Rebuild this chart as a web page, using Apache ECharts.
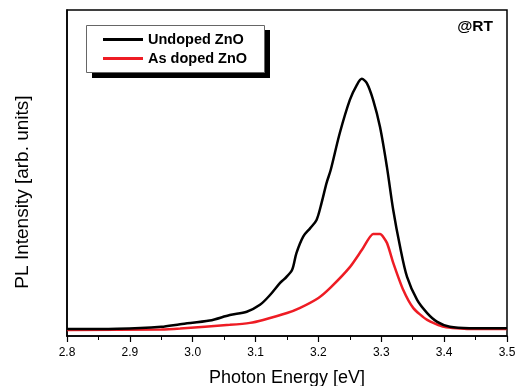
<!DOCTYPE html>
<html><head><meta charset="utf-8">
<script src="https://cdn.jsdelivr.net/npm/echarts@6/dist/echarts.min.js"></script>
<style>html,body{margin:0;padding:0;background:#fff}#c{width:515px;height:386px}</style>
</head><body><div id="c"></div>
<script>
const xTicks = ['2.8','2.9','3.0','3.1','3.2','3.3','3.4','3.5'];
const undopedE = [2.80,2.88,2.95,2.98,3.027,3.059,3.086,3.107,3.123,3.139,3.146,3.158,3.165,3.176,3.187,3.197,3.205,3.213,3.2195,3.234,3.250,3.261,3.269,3.277,3.287,3.298,3.309,3.319,3.330,3.341,3.357,3.373,3.389,3.409,3.44,3.50];
const undopedI = [2.7,2.8,3.4,4.2,5.3,7.0,8.0,10.1,13.1,16.8,18.0,20.7,25.9,31.0,33.5,36.0,41.2,47.3,51.2,62.5,72.6,77.1,79.0,77.7,72.6,64.3,52.1,39.0,27.7,18.6,11.6,7.6,4.9,3.4,3.0,3.0];
const dopedE = [2.80,2.95,2.98,3.059,3.091,3.112,3.15,3.17,3.20,3.22,3.25,3.269,3.287,3.298,3.309,3.319,3.335,3.351,3.373,3.40,3.44,3.50];
const dopedI = [2.4,2.6,2.9,4.0,4.6,5.5,7.6,9.1,12.2,15.5,21.6,26.8,31.7,31.7,29.0,22.9,14.6,9.1,5.5,3.4,2.7,2.7];
const seriesNames = ['Undoped ZnO','As doped ZnO'];
const FONT = 'Liberation Sans, Arial, sans-serif';

const chart = echarts.init(document.getElementById('c'));
chart.setOption({
  animation:false,
  backgroundColor:'#fff',
  textStyle:{fontFamily:FONT},
  grid:{left:67,right:8,top:10,bottom:50,show:true,borderColor:'#000',borderWidth:1.5,containLabel:false,outerBoundsMode:'none'},
  xAxis:{type:'value',min:2.8,max:3.5,interval:0.1,
    name:'Photon Energy [eV]',nameLocation:'middle',nameGap:33,
    nameTextStyle:{fontSize:18,color:'#000'},
    axisLine:{lineStyle:{color:'#000',width:1.5}},
    axisTick:{show:true,inside:false,length:6,lineStyle:{color:'#000',width:1.2}},
    minorTick:{show:true,splitNumber:2,length:4,lineStyle:{color:'#000',width:1}},
    axisLabel:{fontSize:12,color:'#000',margin:11,formatter:v=>xTicks.find(t=>Math.abs(parseFloat(t)-v)<1e-6)||''},
    splitLine:{show:false}},
  yAxis:{type:'value',min:0.6,max:100,
    axisLine:{show:true,lineStyle:{color:'#000',width:1.5}},
    axisTick:{show:false},axisLabel:{show:false},splitLine:{show:false}},
  legend:{left:103,top:32,orient:'vertical',
    data:seriesNames.map(n=>({name:n,icon:'rect'})),
    itemWidth:40,itemHeight:3,itemGap:4,padding:0,
    textStyle:{fontSize:14.5,fontWeight:'bold',color:'#000',fontFamily:FONT}},
  graphic:[
    {type:'rect',z:0,shape:{x:92,y:30,width:178,height:48},style:{fill:'#000'}},
    {type:'rect',z:1,shape:{x:86.5,y:25.5,width:178,height:47},style:{fill:'#fff',stroke:'#666',lineWidth:1}},
    {type:'text',z:2,right:22,top:19,style:{text:'@RT',font:'bold 15.5px '+FONT,fill:'#000'}},
    {type:'text',z:2,x:23,y:192,rotation:Math.PI/2,style:{text:'PL Intensity [arb. units]',font:'19px '+FONT,fill:'#000',textAlign:'center',textVerticalAlign:'middle'}}
  ],
  series:[
    {name:seriesNames[0],type:'line',z:5,data:undopedE.map((e,i)=>[e,undopedI[i]]),smooth:0.3,showSymbol:false,
      lineStyle:{color:'#000',width:2.5},itemStyle:{color:'#000'}},
    {name:seriesNames[1],type:'line',z:4,data:dopedE.map((e,i)=>[e,dopedI[i]]),smooth:0.2,showSymbol:false,
      lineStyle:{color:'#ee1c24',width:2.5},itemStyle:{color:'#ee1c24'}}
  ]
});
</script></body></html>
